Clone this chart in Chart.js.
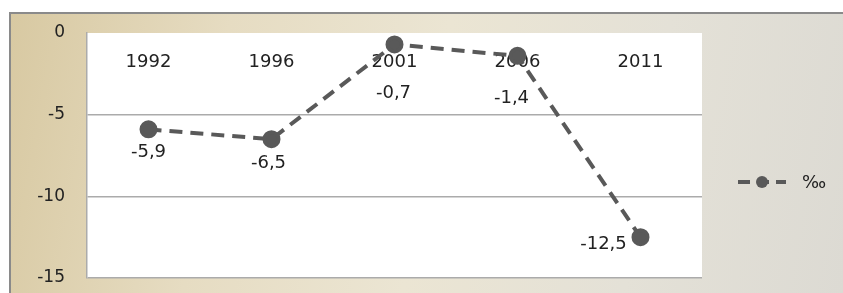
<!DOCTYPE html>
<html>
<head>
<meta charset="utf-8">
<script src="https://cdn.jsdelivr.net/npm/chart.js@4.4.0/dist/chart.umd.min.js"></script>
<style>
  html, body { margin: 0; padding: 0; background: #ffffff; }
  #wrap { position: relative; width: 843px; height: 293px; }
  #frame {
    position: absolute; left: 9px; top: 12px; width: 834px; height: 281px;
    border-top: 2px solid #8a8a8a; border-left: 2px solid #8a8a8a; box-sizing: border-box;
    background: linear-gradient(100deg, #d8c9a2 0%, #e6dcc2 25%, #ebe5d3 50%, #e4e1d7 75%, #dcdad3 100%);
  }
  canvas { position: absolute; left: 0; top: 0; }
</style>
</head>
<body>
<div id="wrap">
  <div id="frame"></div>
  <canvas id="grafico" width="843" height="293"></canvas>
</div>
<script>
// datos
const years = ["1992", "1996", "2001", "2006", "2011"];
const valores = [-5.9, -6.5, -0.7, -1.4, -12.5];
const serieNombre = "‰";
const yMin = -15, yMax = 0, yPaso = 5;

const FONT = "DejaVu Sans";
const gris = "#595959";

// fondo blanco del area de trazado
const fondoPlot = {
  id: "fondoPlot",
  beforeDraw(chart) {
    const { ctx, chartArea } = chart;
    ctx.save();
    ctx.fillStyle = "#ffffff";
    ctx.fillRect(chartArea.left, chartArea.top, chartArea.right - chartArea.left, chartArea.bottom - chartArea.top);
    ctx.restore();
  }
};

// etiquetas de categoria dentro del area (eje cruza en 0)
const etiquetasX = {
  id: "etiquetasX",
  beforeDatasetsDraw(chart) {
    const { ctx, scales } = chart;
    ctx.save();
    ctx.font = "18px '" + FONT + "'";
    ctx.fillStyle = "#222222";
    ctx.textAlign = "center";
    ctx.textBaseline = "middle";
    years.forEach((y, i) => {
      ctx.fillText(y, scales.x.getPixelForValue(i), scales.y.getPixelForValue(0) + 29);
    });
    ctx.restore();
  }
};

// etiquetas de datos
const offsets = [[0, 23], [-3, 24], [-1, 49], [-6, 42], [-37, 7]];
const etiquetasDatos = {
  id: "etiquetasDatos",
  afterDatasetsDraw(chart) {
    const { ctx } = chart;
    const meta = chart.getDatasetMeta(0);
    ctx.save();
    ctx.font = "18px '" + FONT + "'";
    ctx.fillStyle = "#222222";
    ctx.textAlign = "center";
    ctx.textBaseline = "middle";
    meta.data.forEach((p, i) => {
      const txt = String(valores[i]).replace(".", ",");
      ctx.fillText(txt, p.x + offsets[i][0], p.y + offsets[i][1]);
    });
    ctx.restore();
  }
};

// leyenda estilo Excel
const leyenda = {
  id: "leyenda",
  afterDraw(chart) {
    const { ctx } = chart;
    const y = 182;
    ctx.save();
    ctx.strokeStyle = gris;
    ctx.lineWidth = 4;
    ctx.setLineDash([12, 7]);
    ctx.beginPath();
    ctx.moveTo(738, y);
    ctx.lineTo(786, y);
    ctx.stroke();
    ctx.setLineDash([]);
    ctx.fillStyle = gris;
    ctx.beginPath();
    ctx.arc(762, y, 6, 0, Math.PI * 2);
    ctx.fill();
    ctx.font = "18px '" + FONT + "'";
    ctx.fillStyle = "#222222";
    ctx.textAlign = "left";
    ctx.textBaseline = "middle";
    ctx.fillText(chart.data.datasets[0].label, 802, y + 1);
    ctx.restore();
  }
};

new Chart(document.getElementById("grafico"), {
  type: "line",
  data: {
    labels: years,
    datasets: [{
      label: serieNombre,
      data: valores,
      borderColor: gris,
      backgroundColor: gris,
      borderWidth: 4,
      borderDash: [13, 8],
      pointRadius: 7,
      pointHoverRadius: 7,
      pointBackgroundColor: gris,
      pointBorderColor: gris,
      tension: 0,
      fill: false
    }]
  },
  options: {
    responsive: false,
    animation: false,
    devicePixelRatio: 1,
    layout: { padding: { left: 9, top: 33, right: 141, bottom: 15 } },
    plugins: { legend: { display: false }, tooltip: { enabled: false } },
    scales: {
      x: {
        display: false,
        offset: true
      },
      y: {
        min: yMin,
        max: yMax,
        afterFit(scale) {
          scale.width = 78;
          // el padding de ticks no debe comerse alto
          scale.paddingTop = 0;
          scale.paddingBottom = 0;
        },
        ticks: {
          stepSize: yPaso,
          padding: 22,
          font: { family: FONT, size: 17 },
          color: "#222222"
        },
        grid: {
          drawTicks: false,
          color: ctx => (ctx.tick && ctx.tick.value === 0) ? "rgba(0,0,0,0)" : "#ababab",
          lineWidth: 1.5
        },
        border: { display: true, color: "#ababab", width: 1.5 }
      }
    }
  },
  plugins: [fondoPlot, etiquetasX, etiquetasDatos, leyenda]
});
</script>
</body>
</html>
